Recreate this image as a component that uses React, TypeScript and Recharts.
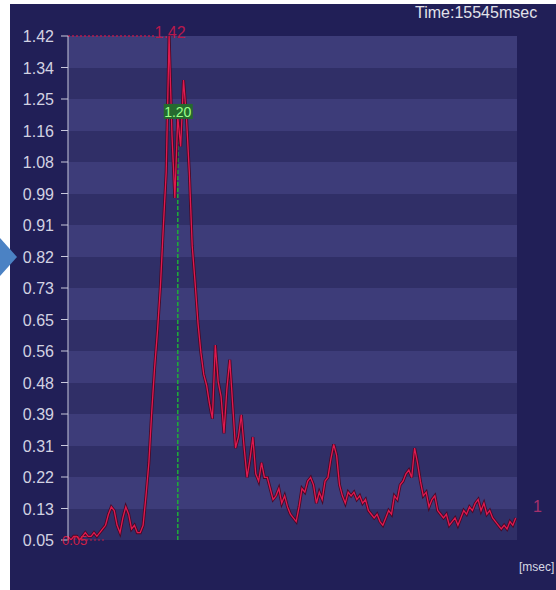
import {
  LineChart,
  Line,
  XAxis,
  YAxis,
  CartesianGrid,
  ReferenceLine,
  ReferenceDot,
} from "recharts";

// sampling of the trace
const SAMPLE_MS = 100;
const TOTAL_MS = 15545;

// y scale
const Y_MIN = 0.05;
const Y_MAX = 1.42;
const Y_TICK_LABELS = [
  "0.05", "0.13", "0.22", "0.31", "0.39", "0.48", "0.56", "0.65", "0.73",
  "0.82", "0.91", "0.99", "1.08", "1.16", "1.25", "1.34", "1.42",
];

// trace values, one every SAMPLE_MS
const VALUES = [
  0.06, 0.05, 0.06, 0.06, 0.05, 0.06, 0.07, 0.06, 0.06, 0.07, 0.06,
  0.07, 0.08, 0.09, 0.12, 0.14, 0.13, 0.09, 0.07, 0.11, 0.14, 0.12, 0.08, 0.09, 0.07, 0.07, 0.09,
  0.17, 0.26, 0.4, 0.52, 0.62, 0.74, 0.9, 1.05,
  1.42,
  1.15, 0.98, 1.2, 1.12, 1.3, 1.2, 1.05, 0.85, 0.75, 0.64, 0.56, 0.5, 0.47, 0.42, 0.38,
  0.58, 0.48, 0.44, 0.34, 0.46, 0.54, 0.42, 0.3, 0.33, 0.39, 0.3, 0.22, 0.27,
  0.33, 0.23, 0.21, 0.26, 0.22, 0.22, 0.19, 0.16, 0.17, 0.19, 0.15, 0.17, 0.14, 0.12, 0.11, 0.1,
  0.14, 0.19, 0.18, 0.21, 0.22, 0.2, 0.15, 0.18, 0.16, 0.21, 0.22, 0.27, 0.31, 0.28, 0.2, 0.17, 0.15, 0.18, 0.17, 0.18,
  0.16, 0.17, 0.15, 0.16, 0.13, 0.12, 0.11, 0.12, 0.1, 0.09, 0.11, 0.13, 0.12, 0.17, 0.16, 0.2, 0.21, 0.23, 0.24, 0.22,
  0.3, 0.26, 0.21, 0.17, 0.18, 0.14, 0.16, 0.17, 0.13, 0.12, 0.11, 0.12, 0.09, 0.1, 0.11, 0.09, 0.11, 0.13, 0.12, 0.14,
  0.13, 0.15, 0.16, 0.13, 0.15, 0.12, 0.13, 0.11, 0.1, 0.09, 0.08, 0.09, 0.08, 0.1, 0.09, 0.11,
];

// cursor (green marker)
const CURSOR_MS = 3800;
const CURSOR_VALUE = 1.2;

const FONT = "'Liberation Sans', Arial, sans-serif";

const data = VALUES.map((v, i) => ({ ms: i * SAMPLE_MS, v }));

const yTicks = Y_TICK_LABELS.map(
  (_, i) => Y_MIN + (i * (Y_MAX - Y_MIN)) / (Y_TICK_LABELS.length - 1)
);

const peakIndex = VALUES.indexOf(Math.max(...VALUES));
const peakMs = peakIndex * SAMPLE_MS;
const peakValue = VALUES[peakIndex];

const YTick = (props: any) => {
  const { x, y, index } = props;
  return (
    <text x={x} y={y} dy={6} textAnchor="end" fill="#d2d2e2" fontSize={16} fontFamily={FONT}>
      {Y_TICK_LABELS[index]}
    </text>
  );
};

export default function App() {
  return (
    <div
      style={{
        position: "absolute",
        left: 0,
        top: 0,
        width: 556,
        height: 590,
        background: "#211f57",
        overflow: "hidden",
      }}
    >
      <LineChart
        width={556}
        height={590}
        data={data}
        margin={{ top: 36, right: 39, bottom: 50, left: 8 }}
      >
        <CartesianGrid
          vertical={false}
          stroke="none"
          horizontalFill={["#3d3c79", "#302f67"]}
          fillOpacity={1}
        />
        <XAxis
          dataKey="ms"
          type="number"
          domain={[0, TOTAL_MS]}
          height={0}
          tick={false}
          tickLine={false}
          axisLine={{ stroke: "#b9b9d6", strokeWidth: 2 }}
        />
        <YAxis
          type="number"
          domain={[Y_MIN, Y_MAX]}
          allowDataOverflow
          ticks={yTicks}
          interval={0}
          width={60}
          tickSize={7}
          tickMargin={7}
          tick={<YTick />}
          tickLine={{ stroke: "#c8c8dc" }}
          axisLine={{ stroke: "#c8c8dc" }}
        />

        {/* max marker */}
        <ReferenceLine
          segment={[
            { x: 0, y: peakValue },
            { x: peakMs - 500, y: peakValue },
          ]}
          stroke="#b8194c"
          strokeDasharray="2 2"
          strokeWidth={1.5}
        />

        {/* cursor */}
        <ReferenceLine
          segment={[
            { x: CURSOR_MS, y: Y_MIN },
            { x: CURSOR_MS, y: CURSOR_VALUE },
          ]}
          stroke="#1fa83a"
          strokeDasharray="4 2"
          strokeWidth={1.6}
        />

        <Line
          dataKey="v"
          type="linear"
          stroke="#4a0826"
          strokeWidth={3}
          dot={false}
          isAnimationActive={false}
        />
        <Line
          dataKey="v"
          type="linear"
          stroke="#de1a50"
          strokeWidth={1.3}
          dot={false}
          isAnimationActive={false}
        />

        <ReferenceDot
          x={peakMs}
          y={peakValue}
          r={0}
          shape={(p: any) => (
            <text x={p.cx + 1} y={p.cy + 2} textAnchor="middle" fill="#b8194c" fontSize={16} fontFamily={FONT}>
              {peakValue.toFixed(2)}
            </text>
          )}
        />
        <ReferenceDot
          x={CURSOR_MS}
          y={CURSOR_VALUE}
          r={0}
          shape={(p: any) => (
            <g>
              <rect x={p.cx - 14} y={p.cy - 13} width={29} height={15} fill="#256a2e" />
              <text x={p.cx} y={p.cy} textAnchor="middle" fill="#9cff8a" fontSize={14} fontFamily={FONT}>
                {CURSOR_VALUE.toFixed(2)}
              </text>
            </g>
          )}
        />
        <ReferenceDot
          x={0}
          y={Y_MIN}
          r={0}
          shape={(p: any) => (
            <g>
              <line x1={p.cx + 14} y1={p.cy} x2={p.cx + 38} y2={p.cy} stroke="#c81e46" strokeDasharray="2 2" />
              <text x={p.cx - 6} y={p.cy + 5} fill="#d22046" fontSize={13} fontFamily={FONT}>
                {Y_MIN.toFixed(2)}
              </text>
            </g>
          )}
        />
      </LineChart>

      <svg
        width={556}
        height={590}
        style={{ position: "absolute", left: 0, top: 0, pointerEvents: "none" }}
      >
        <rect x={0} y={0} width={10} height={590} fill="#ffffff" />
        <rect x={0} y={0} width={556} height={4} fill="#ffffff" />
        <polygon points="0,238 17,257 0,276" fill="#4b82c4" />
        <text x={415} y={18} fill="#e2e2ea" fontSize={16} fontFamily={FONT}>
          Time:15545msec
        </text>
        <text x={533} y={512} fill="#a4306c" fontSize={16} fontFamily={FONT}>
          1
        </text>
        <text x={519} y={571} fill="#d8d8e4" fontSize={12} fontFamily={FONT}>
          [msec]
        </text>
      </svg>
    </div>
  );
}
